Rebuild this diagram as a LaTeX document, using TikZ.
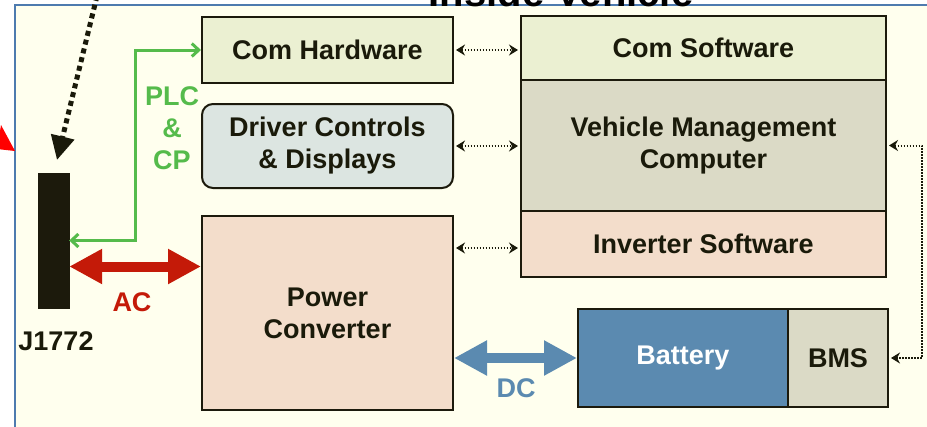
\documentclass[tikz,border=0pt]{standalone}
\usepackage{fontspec}
\setmainfont{Liberation Sans}
\usetikzlibrary{arrows.meta}
\definecolor{creambg}{HTML}{FFFFEE}
\definecolor{frameblue}{HTML}{4E7BAF}
\definecolor{comfill}{HTML}{EBF0D2}
\definecolor{drvfill}{HTML}{DCE5E1}
\definecolor{vmcfill}{HTML}{DBDAC6}
\definecolor{peach}{HTML}{F3DDCB}
\definecolor{battblue}{HTML}{5B8AB0}
\definecolor{plcgreen}{HTML}{55BB4B}
\definecolor{acred}{HTML}{C41A08}
\definecolor{edge}{HTML}{1C1A0C}
\definecolor{ink}{HTML}{1A1A0A}
\begin{document}
\begin{tikzpicture}[x=1pt,y=-1pt,
  box/.style={draw=edge, line width=2pt, inner sep=0pt, align=center,
    font=\fontsize{27}{32}\selectfont\bfseries, text=ink},
  lbl/.style={inner sep=0pt, align=center, font=\fontsize{27}{32}\selectfont\bfseries},
  dotlink/.style={draw=ink, line width=2pt, dash pattern=on 1.5pt off 1.5pt,
    {Stealth[length=9pt,width=11pt,inset=3pt]}-{Stealth[length=9pt,width=11pt,inset=3pt]},
    shorten <=2pt, shorten >=2pt},
  greenlink/.style={draw=plcgreen, line width=3pt,
    {Straight Barb[length=7pt,width=13pt]}-{Straight Barb[length=7pt,width=13pt]}},
  fatlink/.style={line width=10pt,
    {Triangle[length=33pt,width=33pt]}-{Triangle[length=33pt,width=33pt]}}
]
\useasboundingbox (0,0) rectangle (927,426);
\clip (0,0) rectangle (927,426);
% frame
\fill[creambg] (15,5) rectangle (930,430);
\draw[frameblue, line width=2pt] (15,430) -- (15,5) -- (930,5);
% title (cut off at the top, as in the reference)
\node[anchor=base, inner sep=0pt, font=\fontsize{40}{44}\selectfont\bfseries, text=black] (title) at (561,6) {Inside Vehicle};
% red tip at left
\fill[red] (1,125) -- (15,151) -- (-3,149) -- cycle;
% left blocks
\node[box, fill=comfill, minimum width=251pt, minimum height=66pt] (ch) at (327.5,50) {Com Hardware};
\node[box, fill=drvfill, rounded corners=11pt, minimum width=251pt, minimum height=84pt] (drv) at (327.5,146) {Driver Controls\\\& Displays};
\node[box, fill=peach, minimum width=251pt, minimum height=194pt] (pc) at (327.5,313) {Power\\Converter};
% right stack
\node[box, fill=comfill, minimum width=365pt, minimum height=64pt] (cs) at (703.5,48) {Com Software};
\node[box, fill=vmcfill, minimum width=365pt, minimum height=131pt] (vmc) at (703.5,145.5) {Vehicle Management\\Computer};
\node[box, fill=peach, minimum width=365pt, minimum height=66pt] (inv) at (703.5,244) {Inverter Software};
% battery
\node[box, fill=battblue, text=white, minimum width=210pt, minimum height=98pt] (bat) at (683,358) {Battery};
\node[box, fill=vmcfill, minimum width=100pt, minimum height=98pt] (bms) at (838,358) {BMS};
% J1772 connector
\node[fill=edge, draw=edge, inner sep=0pt, minimum width=31pt, minimum height=135pt] (j) at (53.5,240.5) {};
\node[lbl, text=ink] (jl) at (56,341) {J1772};
% labels
\node[lbl, text=plcgreen] (plc) at (172,128) {PLC\\\&\\CP};
\node[lbl, text=acred] (acl) at (132,302) {AC};
\node[lbl, text=battblue] (dcl) at (516,388) {DC};
% coordinates
\coordinate (gx) at (135,0);
\coordinate (rx) at (922,0);
\coordinate (ds) at (97,-4);
\coordinate (de) at (57,160);
% black dotted arrow from outside
\draw[ink, line width=5pt, dash pattern=on 5pt off 4pt,
  -{Triangle[length=24pt,width=23pt]}] (ds) -- (de);
% green PLC/CP link
\draw[greenlink] (j.east) -- (j.east -| gx) |- (ch.west);
% AC power
\draw[fatlink, acred] ([yshift=-26pt]j.east) -- ([yshift=-26pt]j.east -| pc.west);
% DC power
\draw[fatlink, battblue] (bat.west -| pc.east) -- (bat.west);
% data links
\draw[dotlink] (ch.east) -- (ch.east -| cs.west);
\draw[dotlink] (drv.east) -- (drv.east -| vmc.west);
\draw[dotlink] ([yshift=-4pt]inv.west -| pc.east) -- ([yshift=-4pt]inv.west);
\draw[dotlink] (vmc.east) -- (vmc.east -| rx) |- (bms.east);
\end{tikzpicture}
\end{document}
